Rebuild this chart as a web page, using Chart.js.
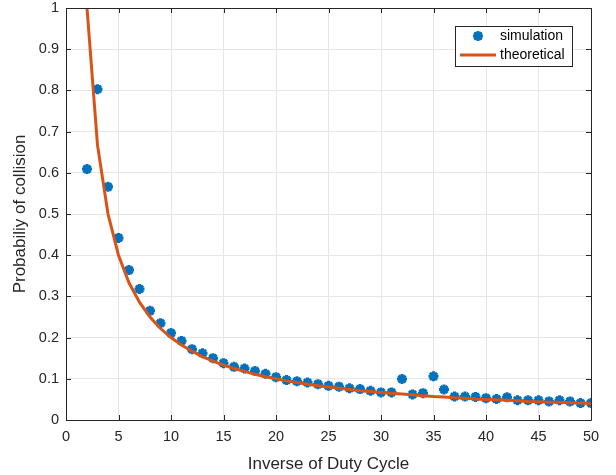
<!DOCTYPE html>
<html>
<head>
<meta charset="utf-8">
<script src="https://cdn.jsdelivr.net/npm/chart.js@4/dist/chart.umd.min.js"></script>
<style>
  html, body { margin: 0; padding: 0; background: #ffffff; }
  #wrap { width: 616px; height: 475px; }
</style>
</head>
<body>
<div id="wrap"><canvas id="c" width="616" height="475"></canvas></div>
<script>
// Inverse duty cycle values (x) for both series
const dutyInverse = [2, 3, 4, 5, 6, 7, 8, 9, 10, 11, 12, 13, 14, 15, 16, 17, 18, 19, 20,
  21, 22, 23, 24, 25, 26, 27, 28, 29, 30, 31, 32, 33, 34, 35, 36, 37, 38, 39, 40,
  41, 42, 43, 44, 45, 46, 47, 48, 49, 50];

// Simulated collision probability
const simulation = [0.609, 0.803, 0.566, 0.442, 0.364, 0.318, 0.265, 0.235, 0.211, 0.192,
  0.172, 0.162, 0.150, 0.138, 0.129, 0.125, 0.119, 0.112, 0.104,
  0.097, 0.094, 0.091, 0.087, 0.083, 0.081, 0.077, 0.075, 0.071, 0.067,
  0.067, 0.0995, 0.062, 0.065, 0.106, 0.074, 0.057, 0.057, 0.056, 0.053,
  0.051, 0.055, 0.048, 0.048, 0.048, 0.045, 0.048, 0.045, 0.041, 0.041];

// Theoretical collision probability
const theoretical = [1.0, 0.667, 0.5, 0.4, 0.333, 0.286, 0.25, 0.222, 0.2, 0.182,
  0.167, 0.154, 0.143, 0.133, 0.125, 0.118, 0.111, 0.105, 0.1,
  0.095, 0.091, 0.087, 0.083, 0.08, 0.077, 0.074, 0.071, 0.069, 0.067,
  0.065, 0.063, 0.061, 0.059, 0.057, 0.056, 0.054, 0.053, 0.051, 0.05,
  0.049, 0.048, 0.047, 0.045, 0.044, 0.043, 0.043, 0.042, 0.041, 0.04];

const xTicks = [0, 5, 10, 15, 20, 25, 30, 35, 40, 45, 50];
const yTicks = [0, 0.1, 0.2, 0.3, 0.4, 0.5, 0.6, 0.7, 0.8, 0.9, 1];
const seriesNames = ['simulation', 'theoretical'];

const BLUE = '#0072BD';
const ORANGE = '#D95319';
const AXIS = '#262626';
const FONT = '"Liberation Sans", Arial, Helvetica, sans-serif';

// Box frame with inward tick marks on all four sides
const framePlugin = {
  id: 'frame',
  afterDatasetsDraw(chart) {
    const { ctx, chartArea: a, scales } = chart;
    const L = 5;
    ctx.save();
    ctx.strokeStyle = AXIS;
    ctx.lineWidth = 1;
    ctx.beginPath();
    ctx.rect(Math.round(a.left) + 0.5, Math.round(a.top) + 0.5,
      Math.round(a.right - a.left), Math.round(a.bottom - a.top));
    ctx.stroke();
    ctx.beginPath();
    xTicks.forEach(v => {
      const px = Math.round(scales.x.getPixelForValue(v)) + 0.5;
      ctx.moveTo(px, a.bottom); ctx.lineTo(px, a.bottom - L);
      ctx.moveTo(px, a.top); ctx.lineTo(px, a.top + L);
    });
    yTicks.forEach(v => {
      const py = Math.round(scales.y.getPixelForValue(v)) + 0.5;
      ctx.moveTo(a.left, py); ctx.lineTo(a.left + L, py);
      ctx.moveTo(a.right, py); ctx.lineTo(a.right - L, py);
    });
    ctx.stroke();
    ctx.restore();
  }
};

// Legend box in the upper right corner of the plot
const legendPlugin = {
  id: 'boxLegend',
  afterDraw(chart) {
    const { ctx, chartArea: a } = chart;
    const x0 = a.right - 136, y0 = a.top + 18, w = 117, h = 40;
    ctx.save();
    ctx.fillStyle = '#ffffff';
    ctx.fillRect(x0, y0, w, h);
    ctx.strokeStyle = AXIS;
    ctx.lineWidth = 1;
    ctx.strokeRect(Math.round(x0) + 0.5, Math.round(y0) + 0.5, w, h);
    const row1 = y0 + 10, row2 = y0 + 29;
    const ds0 = chart.data.datasets[0];
    Chart.helpers.drawPoint(ctx, {
      pointStyle: ds0.pointStyle, radius: ds0.pointRadius, borderWidth: ds0.borderWidth
    }, x0 + 23, row1);
    ctx.strokeStyle = BLUE;
    ctx.lineWidth = ds0.borderWidth;
    ctx.stroke();
    ctx.strokeStyle = ORANGE;
    ctx.lineWidth = 3;
    ctx.beginPath();
    ctx.moveTo(x0 + 5, row2); ctx.lineTo(x0 + 41, row2);
    ctx.stroke();
    ctx.fillStyle = '#000000';
    ctx.font = '14px ' + FONT;
    ctx.textBaseline = 'middle';
    ctx.fillText(seriesNames[0], x0 + 45, row1);
    ctx.fillText(seriesNames[1], x0 + 45, row2);
    ctx.restore();
  }
};

new Chart(document.getElementById('c'), {
  type: 'scatter',
  data: {
    datasets: [
      {
        label: seriesNames[0],
        data: dutyInverse.map((x, i) => ({ x, y: simulation[i] })),
        showLine: false,
        pointStyle: 'star',
        pointRadius: 5,
        pointHoverRadius: 5,
        borderWidth: 3,
        borderColor: BLUE,
        backgroundColor: BLUE,
        order: 2
      },
      {
        label: seriesNames[1],
        data: dutyInverse.map((x, i) => ({ x, y: theoretical[i] })),
        showLine: true,
        pointRadius: 0,
        borderWidth: 3,
        borderColor: ORANGE,
        backgroundColor: ORANGE,
        tension: 0,
        order: 1
      }
    ]
  },
  options: {
    responsive: false,
    animation: false,
    devicePixelRatio: 1,
    layout: { padding: { left: 10, right: 25, top: 0, bottom: 0 } },
    plugins: {
      legend: { display: false },
      tooltip: { enabled: false }
    },
    scales: {
      x: {
        type: 'linear',
        min: 0, max: 50,
        afterBuildTicks(scale) { scale.ticks = xTicks.map(v => ({ value: v })); },
        afterFit(scale) { scale.height = 55; },
        grid: { color: '#E6E6E6', lineWidth: 1, drawTicks: false },
        border: { display: false },
        ticks: { color: AXIS, font: { family: FONT, size: 14.5 }, padding: 8, maxRotation: 0 },
        title: {
          display: true, text: 'Inverse of Duty Cycle', color: AXIS,
          font: { family: FONT, size: 17 }, padding: { top: 0, bottom: 0 }
        }
      },
      y: {
        type: 'linear',
        min: 0, max: 1,
        afterBuildTicks(scale) { scale.ticks = yTicks.map(v => ({ value: v })); },
        afterFit(scale) { scale.width = 56; scale.paddingTop = 8; scale.paddingBottom = 0; },
        grid: { color: '#E6E6E6', lineWidth: 1, drawTicks: false },
        border: { display: false },
        ticks: {
          color: AXIS, font: { family: FONT, size: 14.5 }, padding: 7,
          callback: v => String(Math.round(v * 10) / 10)
        },
        title: {
          display: true, text: 'Probabiliy of collision', color: AXIS,
          font: { family: FONT, size: 17 }, padding: { top: 0, bottom: 4 }
        }
      }
    }
  },
  plugins: [framePlugin, legendPlugin]
});
</script>
</body>
</html>
